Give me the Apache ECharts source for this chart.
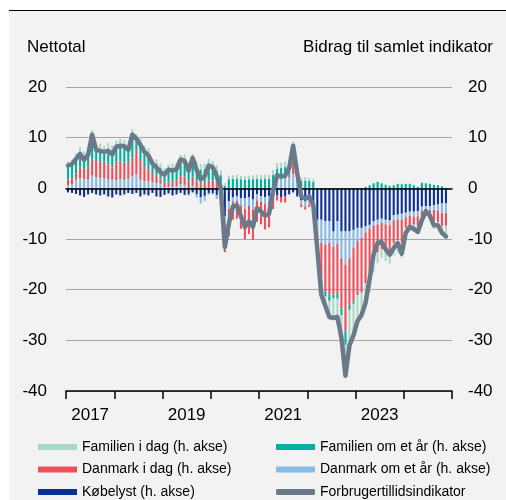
<!DOCTYPE html>
<html><head><meta charset="utf-8">
<script src="https://cdn.jsdelivr.net/npm/echarts@6/dist/echarts.min.js"></script>
<style>html,body{margin:0;padding:0;background:#fff}#c{width:506px;height:500px}</style>
</head><body><div id="c"></div>
<script>
// Monthly categories Jan 2017 - Dec 2024
const years = [2017, 2018, 2019, 2020, 2021, 2022, 2023, 2024];
const months = [];
years.forEach(y => { for (let m = 1; m <= 12; m++) months.push(y + '-' + (m < 10 ? '0' : '') + m); });
const yearLabels = ['2017', '2019', '2021', '2023'];

// Forbrugertillidsindikator (line, nettotal)
const indicator = [
  4.5, 4.8, 5.8, 6.8, 5.6, 6.6, 10.6, 7.6, 7.4, 7.2, 7.4, 6.7,
  8.2, 8.4, 8.3, 7.6, 10.6, 9.8, 8.6, 7.2, 6.5, 4.9, 4.1, 3.2,
  2.7, 3.7, 3.5, 3.8, 5.7, 5.4, 3.5, 6.0, 3.6, 1.8, 2.4, 4.5,
  4.2, 2.4, 0.1, -11.6, -7.0, -3.6, -3.3, -5.5, -7.6, -6.5, -7.6, -3.9,
  -4.5, -5.4, -5.0, -0.5, 2.6, 2.3, 2.5, 4.0, 8.4, 3.0, -1.6, -2.0,
  -1.6, -3.3, -12.0, -21.0, -23.2, -25.4, -25.6, -25.4, -29.5, -37.0, -31.0, -29.0,
  -26.2, -25.0, -22.6, -18.0, -13.0, -10.8, -10.6, -12.0, -13.1, -11.8, -10.8, -12.9,
  -8.8, -7.6, -8.0, -8.6, -6.3, -4.5, -5.4, -7.3, -7.3, -8.8, -9.5, null
];
// Købelyst
const kobelyst = [
  -0.8, -0.9, -1.1, -1.4, -1.7, -1.2, -0.9, -1.2, -1.4, -1.2, -1.6, -1.8,
  -1.2, -1.4, -1.2, -0.9, -1.1, -0.9, -1.6, -1.2, -1.4, -0.9, -1.6, -1.7,
  -1.3, -1.0, -1.4, -1.2, -0.9, -1.3, -1.2, -0.8, -1.2, -1.8, -1.5, -1.0,
  -1.0, -1.3, -1.8, -5.5, -2.5, -1.8, -1.5, -1.9, -2.0, -1.8, -2.2, -1.2,
  -1.6, -1.7, -1.5, -1.5, -1.4, -1.8, -1.6, -1.2, -0.8, -1.6, -2.4, -2.6,
  -2.4, -3.0, -6.2, -6.2, -6.5, -6.5, -8.5, -6.5, -8.5, -8.5, -8.5, -8.2,
  -7.8, -7.8, -7.5, -7.2, -6.5, -6.2, -6.0, -6.2, -6.3, -5.3, -5.2, -5.0,
  -4.8, -4.6, -4.6, -4.5, -3.6, -3.5, -3.5, -3.3, -3.2, -3.0, -2.9, null
];
// Danmark om et år
const danmarkFuture = [
  0.6, 0.8, 1.7, 2.0, 1.8, 1.7, 2.5, 2.2, 2.0, 2.0, 1.7, 1.7,
  1.6, 1.8, 1.7, 1.9, 2.4, 2.7, 1.7, 1.4, 1.4, 1.2, 1.0, 0.9,
  0.2, 0.3, 0.3, 0.4, 0.8, 0.7, -0.3, 0.5, -0.6, -1.2, -1.0, -0.3,
  -0.2, -0.8, -1.5, -1.5, -1.5, -0.8, -1.0, -1.5, -2.0, -1.6, -2.0, -1.2,
  -1.0, -1.4, -1.2, 0.5, 1.6, 1.8, 1.9, 2.2, 2.8, 1.5, -0.8, -1.0,
  -0.8, -1.2, -2.3, -4.6, -4.6, -4.3, -3.0, -4.5, -5.3, -6.6, -5.3, -3.6,
  -2.6, -2.0, -1.2, -0.8, -0.8, -0.9, -0.8, -0.9, -1.0, -1.0, -0.9, -1.2,
  -0.9, -0.8, -1.0, -1.0, -0.8, -0.6, -0.8, -1.0, -1.2, -1.9, -2.0, null
];
// Danmark i dag
const danmarkNow = [
  1.2, 1.2, 1.3, 2.3, 2.0, 2.6, 3.2, 3.4, 3.0, 3.3, 3.0, 2.4,
  3.7, 3.5, 3.4, 3.1, 3.7, 4.9, 3.9, 3.0, 2.3, 1.8, 1.5, 1.1,
  0.9, 1.0, 1.0, 1.1, 1.6, 1.6, 1.3, 1.8, 1.4, 1.1, 1.2, 1.6,
  1.5, 1.0, -0.2, -5.6, -5.5, -3.6, -3.5, -4.6, -6.0, -5.6, -6.0, -4.2,
  -4.5, -5.0, -5.0, -2.6, -1.0, -1.0, -1.2, 0.5, 2.5, 0.5, -0.5, -0.6,
  -0.5, -0.9, -2.5, -7.6, -9.2, -10.2, -9.5, -9.8, -9.9, -13.2, -9.2, -10.5,
  -10.5, -10.8, -10.0, -8.5, -6.5, -5.5, -5.2, -5.3, -5.4, -4.5, -4.2, -4.5,
  -2.1, -1.9, -1.6, -2.0, -2.0, -1.0, -1.4, -2.2, -2.3, -2.6, -2.5, null
];
// Familien om et år
const familyFuture = [
  2.5, 2.6, 2.8, 2.8, 2.5, 2.5, 4.0, 2.2, 2.6, 2.2, 2.9, 3.0,
  3.0, 3.2, 3.3, 2.6, 4.0, 2.2, 3.3, 2.9, 3.0, 2.0, 2.3, 2.1,
  2.1, 2.5, 2.6, 2.5, 2.9, 3.0, 2.6, 3.1, 2.8, 2.6, 2.6, 3.0,
  2.8, 2.5, 2.6, 0.5, 1.8, 1.9, 1.9, 1.8, 1.7, 1.8, 1.8, 1.9,
  1.8, 1.9, 1.9, 2.2, 2.3, 2.2, 2.3, 1.7, 2.5, 1.8, 1.5, 1.5,
  1.5, 1.3, -0.5, -1.3, -1.0, -1.2, -0.7, -1.0, -1.3, -2.6, -1.0, -0.5,
  -0.2, 0.0, 0.3, 0.6, 1.0, 1.3, 1.0, 0.7, 0.5, 0.6, 0.9, 0.8,
  0.9, 0.9, 0.6, 0.3, 1.1, 1.0, 0.9, 0.7, 0.6, 0.4, 0.0, null
];
// Familien i dag
const familyNow = [
  1.0, 1.1, 1.1, 1.1, 1.0, 1.0, 1.8, 1.0, 1.2, 0.9, 1.4, 1.4,
  1.1, 1.3, 1.1, 0.9, 1.6, 0.9, 1.3, 1.1, 1.2, 0.8, 0.9, 0.8,
  0.8, 0.9, 1.0, 1.0, 1.3, 1.4, 1.1, 1.4, 1.2, 1.1, 1.1, 1.2,
  1.1, 1.0, 1.0, 0.5, 0.7, 0.7, 0.8, 0.7, 0.7, 0.7, 0.8, 0.8,
  0.8, 0.8, 0.8, 0.9, 1.1, 1.1, 1.1, 0.8, 1.4, 0.8, 0.6, 0.7,
  0.6, 0.5, -0.5, -1.3, -1.9, -3.2, -3.9, -3.6, -4.5, -6.1, -7.0, -6.2,
  -5.0, -5.0, -4.8, -4.0, -2.8, -2.2, -1.8, -2.0, -2.2, -2.5, -2.4, -3.0,
  -1.9, -1.2, -1.4, -1.4, -1.0, -0.4, -0.6, -1.5, -1.2, -1.7, -2.1, null
];

const FONT = '"Liberation Sans", Arial, sans-serif';
const names = {
  fn: 'Familien i dag (h. akse)',
  ff: 'Familien om et år (h. akse)',
  dn: 'Danmark i dag (h. akse)',
  df: 'Danmark om et år (h. akse)',
  k: 'Købelyst (h. akse)',
  line: 'Forbrugertillidsindikator'
};
const colors = {
  fn: '#a9d9c5', ff: '#00b1a0', dn: '#ef4f5b', df: '#86bbe6', k: '#0b2f93', line: '#6b7a8a'
};

function bar(key, data) {
  return {
    name: names[key], type: 'bar', stack: 'total', data: data,
    barWidth: '52%', itemStyle: { color: colors[key] }, z: 2
  };
}

const chart = echarts.init(document.getElementById('c'), null, { renderer: 'canvas' });
const legendText = { fontSize: 14, fontFamily: FONT, color: '#000', lineHeight: 16 };
chart.setOption({
  animation: false,
  backgroundColor: '#f2f2f2',
  grid: { left: 66, right: 54, top: 87, bottom: 109 },
  graphic: [
    { type: 'rect', shape: { x: 0, y: 0, width: 506, height: 10 }, style: { fill: '#fff' }, silent: true },
    { type: 'rect', shape: { x: 0, y: 0, width: 9, height: 500 }, style: { fill: '#fff' }, silent: true },
    { type: 'line', shape: { x1: 9, y1: 10.5, x2: 506, y2: 10.5 }, style: { stroke: '#000', lineWidth: 1.2 }, silent: true },
    { type: 'text', x: 27, y: 47, style: { text: 'Nettotal', font: '17px ' + FONT, fill: '#000', verticalAlign: 'middle' } },
    { type: 'text', x: 493, y: 47, style: { text: 'Bidrag til samlet indikator', font: '17px ' + FONT, fill: '#000', align: 'right', verticalAlign: 'middle' } }
  ],
  legend: [
    {
      left: 38, top: 439, orient: 'vertical', padding: 0, itemWidth: 39, itemHeight: 6, itemGap: 6.5,
      selectedMode: false, textStyle: legendText,
      data: [{ name: names.fn, icon: 'rect' }, { name: names.dn, icon: 'rect' }, { name: names.k, icon: 'rect' }]
    },
    {
      left: 276, top: 439, orient: 'vertical', padding: 0, itemWidth: 39, itemHeight: 6, itemGap: 6.5,
      selectedMode: false, textStyle: legendText,
      data: [{ name: names.ff, icon: 'rect' }, { name: names.df, icon: 'rect' }, { name: names.line, icon: 'roundRect' }]
    }
  ],
  xAxis: [
    {
      type: 'category', data: months, boundaryGap: true, z: 6,
      axisLine: { show: true, onZero: true, lineStyle: { color: '#000', width: 1.5 } },
      axisTick: { show: false }, axisLabel: { show: false }, splitLine: { show: false }
    },
    {
      type: 'value', min: 0, max: 8, interval: 1, position: 'bottom',
      axisLine: { show: true, onZero: false, lineStyle: { color: '#000', width: 1.5 } },
      axisTick: { show: true, length: 8, lineStyle: { color: '#000', width: 1.5 } },
      axisLabel: { show: false }, splitLine: { show: false }
    },
    {
      type: 'value', min: 0, max: 16, interval: 1, position: 'bottom',
      axisLine: { show: false, onZero: false }, axisTick: { show: false }, splitLine: { show: false },
      axisLabel: {
        show: true, margin: 16, fontSize: 17, fontFamily: FONT, color: '#000',
        formatter: v => ((v - 1) % 4 === 0 ? yearLabels[(v - 1) / 4] : '')
      }
    }
  ],
  yAxis: [
    {
      type: 'value', min: -40, max: 20, interval: 10, position: 'left',
      axisLine: { show: false }, axisTick: { show: false },
      axisLabel: { margin: 19, fontSize: 17, fontFamily: FONT, color: '#000' },
      splitLine: { show: true, lineStyle: { color: '#a6a6a6', width: 1.2 } }
    },
    {
      type: 'value', min: -40, max: 20, interval: 10, position: 'right',
      axisLine: { show: false }, axisTick: { show: false },
      axisLabel: { margin: 16, fontSize: 17, fontFamily: FONT, color: '#000' },
      splitLine: { show: false }
    }
  ],
  series: [
    bar('k', kobelyst),
    bar('df', danmarkFuture),
    bar('dn', danmarkNow),
    bar('ff', familyFuture),
    bar('fn', familyNow),
    {
      name: names.line, type: 'line', data: indicator, symbol: 'none', z: 10,
      itemStyle: { color: colors.line },
      lineStyle: { color: colors.line, width: 4.5, cap: 'round', join: 'round' }
    }
  ]
});
</script>
</body></html>
